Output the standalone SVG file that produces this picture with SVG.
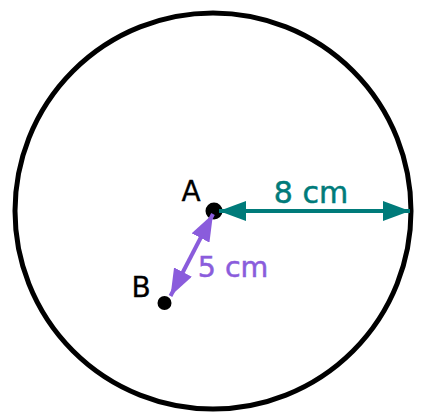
<svg xmlns="http://www.w3.org/2000/svg" width="426" height="414" viewBox="0 0 426 414">
<style>
.lbl{font-family:"DejaVu Sans","Liberation Sans",sans-serif;}
</style>
<defs>
<marker id="ahT" viewBox="0 0 27 20" refX="27" refY="10" markerWidth="27" markerHeight="20" markerUnits="userSpaceOnUse" orient="auto-start-reverse"><path d="M0,0 L27,10 L0,20 z" fill="#007B7A"/></marker>
<marker id="ahP" viewBox="0 0 27 20" refX="27" refY="10" markerWidth="27" markerHeight="20" markerUnits="userSpaceOnUse" orient="auto-start-reverse"><path d="M0,0 L27,10 L0,20 z" fill="#8A5CDC"/></marker>
</defs>
<rect width="426" height="414" fill="#ffffff"/>
<g id="circle"><circle cx="213" cy="211" r="198" fill="none" stroke="#000" stroke-width="5"/></g>
<g id="pointA"><circle cx="214" cy="211" r="8.5" fill="#000"/><text class="lbl" x="191" y="201" font-size="28" text-anchor="middle" fill="#000" stroke="#000" stroke-width="0.3">A</text></g>
<g id="pointB"><circle cx="164.5" cy="303" r="7" fill="#000"/><text class="lbl" x="141" y="297" font-size="28" text-anchor="middle" fill="#000" stroke="#000" stroke-width="0.3">B</text></g>
<g id="connectors">
<line x1="219" y1="211" x2="410" y2="211" stroke="#007B7A" stroke-width="4" marker-start="url(#ahT)" marker-end="url(#ahT)"/>
<line x1="213" y1="214" x2="170.5" y2="296" stroke="#8A5CDC" stroke-width="4" marker-start="url(#ahP)" marker-end="url(#ahP)"/>
</g>
<g id="labels">
<text class="lbl" x="311" y="203" font-size="30" text-anchor="middle" fill="#007B7A" stroke="#007B7A" stroke-width="0.5">8 cm</text>
<text class="lbl" x="233" y="277" font-size="28.5" text-anchor="middle" fill="#8A5CDC" stroke="#8A5CDC" stroke-width="0.5">5 cm</text>
</g>
</svg>
